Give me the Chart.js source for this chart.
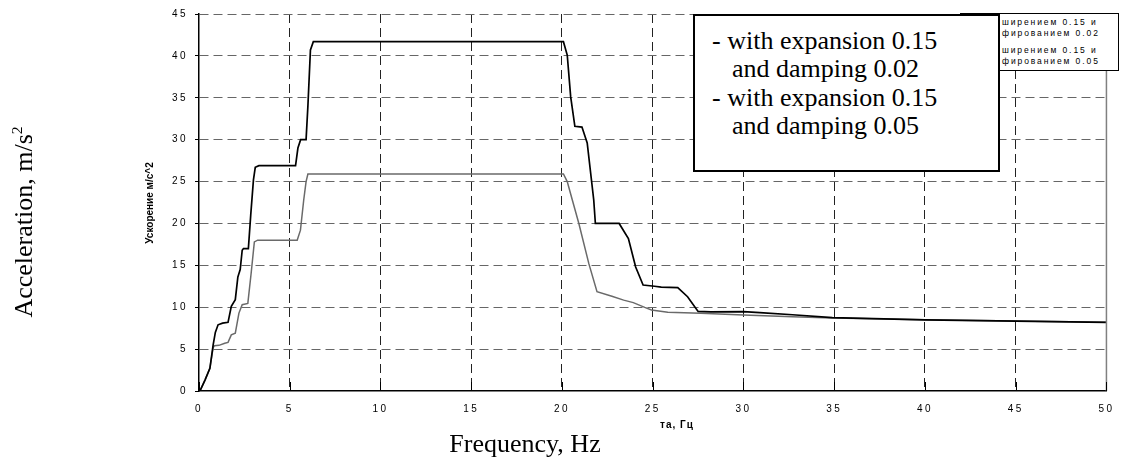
<!DOCTYPE html>
<html>
<head>
<meta charset="utf-8">
<script src="https://cdn.jsdelivr.net/npm/chart.js@4"></script>
<style>
  body { margin: 0; background: #fff; }
  #wrap { position: relative; width: 1124px; height: 461px; overflow: hidden; }
  #chart { position: absolute; left: 0; top: 0; }
  .serif { font-family: "Liberation Serif", "Times New Roman", serif; font-size: 26px; color: #000; white-space: nowrap; }
  .sans { font-family: "Liberation Sans", Arial, sans-serif; color: #000; white-space: nowrap; }
  #note {
    position: absolute; left: 693px; top: 14px; width: 286px; height: 143px;
    border: 2px solid #000; background: #fff; z-index: 3;
    padding: 11px 0 0 17px; line-height: 28.3px;
  }
  #note div.indent { padding-left: 20px; }
  #legend {
    position: absolute; left: 960px; top: 13px; width: 157px; height: 56px;
    border: 1px solid #000; background: #fff; z-index: 2;
    font-size: 8.5px; letter-spacing: 1.9px; line-height: 11px;
  }
  #legend div { padding-left: 41px; }
  #ylabel {
    position: absolute; left: -126px; top: 209px; width: 300px; height: 26px;
    line-height: 26px; text-align: center; transform: rotate(-90deg);
  }
  #ylabel span { font-size: 60%; vertical-align: super; line-height: 0; }
  #xlabel { position: absolute; left: 375px; top: 431px; width: 300px; line-height: 26px; text-align: center; }
  #ytitle {
    position: absolute; left: 50px; top: 197px; width: 200px; height: 12px; line-height: 12px;
    text-align: center; transform: rotate(-90deg); font-size: 10px; font-weight: bold;
  }
  #xtitle { position: absolute; left: 660px; top: 419px; font-size: 10px; font-weight: bold; letter-spacing: 1px; }
</style>
</head>
<body>
<div id="wrap">
  <canvas id="chart" width="1124" height="461"></canvas>
  <div id="legend" class="sans">
    <div style="margin-top:3px">ширением 0.15 и</div>
    <div>фированием 0.02</div>
    <div style="margin-top:6px">ширением 0.15 и</div>
    <div>фированием 0.05</div>
  </div>
  <div id="note" class="serif">
    <div>- with expansion 0.15</div>
    <div class="indent">and damping 0.02</div>
    <div>- with expansion 0.15</div>
    <div class="indent">and damping 0.05</div>
  </div>
  <div id="ylabel" class="serif">Acceleration, m/s<span>2</span></div>
  <div id="xlabel" class="serif">Frequency, Hz</div>
  <div id="ytitle" class="sans">Ускорение м/с^2</div>
  <div id="xtitle" class="sans">та, Гц</div>
</div>
<script>
// damping 0.02 (black curve)
const freq002 = [0.05, 0.33, 0.6, 0.78, 0.9, 1.05, 1.3, 1.6, 1.78, 2.0, 2.14, 2.27, 2.38, 2.45, 2.72, 2.85, 3.0, 3.1, 3.3,
  5.32, 5.45, 5.6, 5.9, 6.0, 6.14, 6.3, 20.08, 20.29, 20.48, 20.71, 21.1, 21.39, 21.75, 21.84, 23.15, 23.66, 24.06,
  24.47, 25.1, 25.47, 26.38, 26.92, 27.5, 28.2, 30.0, 30.9, 32.7, 34.9, 40, 45, 50];
const acc002 = [0, 1.3, 2.7, 5.5, 7.0, 7.9, 8.1, 8.2, 10.1, 10.9, 13.6, 14.5, 16.8, 17.0, 17.0, 21.0, 25.2, 26.7, 26.9,
  26.9, 29.0, 30.0, 30.0, 34.0, 40.7, 41.7, 41.7, 40.1, 35.1, 31.6, 31.5, 29.6, 22.8, 20.0, 20.0, 18.2, 14.8,
  12.65, 12.5, 12.4, 12.35, 11.25, 9.5, 9.45, 9.47, 9.35, 9.1, 8.75, 8.5, 8.35, 8.2];

// damping 0.05 (grey curve)
const freq005 = [0.05, 0.33, 0.6, 0.78, 0.85, 1.1, 1.42, 1.6, 1.78, 2.0, 2.2, 2.38, 2.69, 2.87, 3.05, 3.23, 5.41, 5.59,
  5.77, 5.9, 6.0, 20.08, 20.29, 20.57, 20.93, 21.48, 21.93, 22.75, 23.4, 23.93, 24.56, 24.93, 25.83, 27.65, 30.0,
  32.7, 34.9, 40, 45, 50];
const acc005 = [0, 1.3, 2.7, 5.2, 5.4, 5.45, 5.7, 5.8, 6.7, 6.9, 9.3, 10.3, 10.45, 14.0, 17.8, 18.0, 18.0, 19.2,
  22.8, 25.0, 25.9, 25.9, 25.0, 22.8, 20.0, 15.2, 11.85, 11.3, 10.85, 10.55, 9.98, 9.67, 9.39, 9.27, 9.07,
  8.87, 8.71, 8.5, 8.35, 8.2];

const xTicks = [0, 5, 10, 15, 20, 25, 30, 35, 40, 45, 50];
const yTicks = [0, 5, 10, 15, 20, 25, 30, 35, 40, 45];

function toPoints(xs, ys) {
  return xs.map((x, i) => ({ x, y: ys[i] }));
}

const tickFont = { family: "'Liberation Sans', Arial, sans-serif", size: 10 };

const framePlugin = {
  id: "frame",
  beforeDraw(chart) {
    chart.ctx.letterSpacing = "2.5px";
  },
  afterDraw(chart) {
    const { ctx, chartArea, scales } = chart;
    ctx.save();
    ctx.letterSpacing = "0px";
    ctx.setLineDash([]);
    // grey right border
    ctx.strokeStyle = "#808080";
    ctx.lineWidth = 1.5;
    ctx.beginPath();
    ctx.moveTo(chartArea.right, chartArea.top);
    ctx.lineTo(chartArea.right, chartArea.bottom);
    ctx.stroke();
    // inward tick marks on the frequency axis
    ctx.strokeStyle = "#000";
    ctx.lineWidth = 1;
    for (const v of xTicks) {
      const px = Math.round(scales.x.getPixelForValue(v)) + 0.5;
      ctx.beginPath();
      ctx.moveTo(px, chartArea.bottom);
      ctx.lineTo(px, chartArea.bottom - 9);
      ctx.stroke();
    }
    ctx.restore();
  },
};

new Chart(document.getElementById("chart"), {
  type: "line",
  data: {
    datasets: [
      {
        label: "damping 0.02",
        data: toPoints(freq002, acc002),
        borderColor: "#000",
        borderWidth: 1.7,
        pointRadius: 0,
        tension: 0,
      },
      {
        label: "damping 0.05",
        data: toPoints(freq005, acc005),
        borderColor: "#6a6a6a",
        borderWidth: 1.5,
        pointRadius: 0,
        tension: 0,
      },
    ],
  },
  options: {
    responsive: false,
    animation: false,
    layout: { padding: { left: 0, right: 8, top: 14, bottom: 0 } },
    plugins: { legend: { display: false }, tooltip: { enabled: false } },
    scales: {
      x: {
        type: "linear",
        min: 0,
        max: 50,
        afterFit(scale) { scale.height = 70; },
        afterBuildTicks(scale) { scale.ticks = xTicks.map((value) => ({ value })); },
        ticks: { color: "#000", font: tickFont, padding: 12, maxRotation: 0 },
        grid: {
          color: (c) => (c.tick && (c.tick.value === 50 || c.tick.value === 0) ? "rgba(0,0,0,0)" : "#222"),
          lineWidth: 1,
          drawTicks: false,
        },
        border: { color: "#000", width: 1.5, dash: [9, 5] },
      },
      y: {
        min: 0,
        max: 45,
        afterFit(scale) { scale.width = 199; },
        afterBuildTicks(scale) { scale.ticks = yTicks.map((value) => ({ value })); },
        ticks: { color: "#000", font: tickFont, padding: 7 },
        grid: {
          color: (c) => (c.tick && c.tick.value === 0 ? "rgba(0,0,0,0)" : "#666"),
          lineWidth: 1,
          tickLength: 4,
          tickColor: "#000",
          tickBorderDash: [1, 0],
        },
        border: { color: "#000", width: 1.5, dash: [9, 5] },
      },
    },
  },
  plugins: [framePlugin],
});
</script>
</body>
</html>
